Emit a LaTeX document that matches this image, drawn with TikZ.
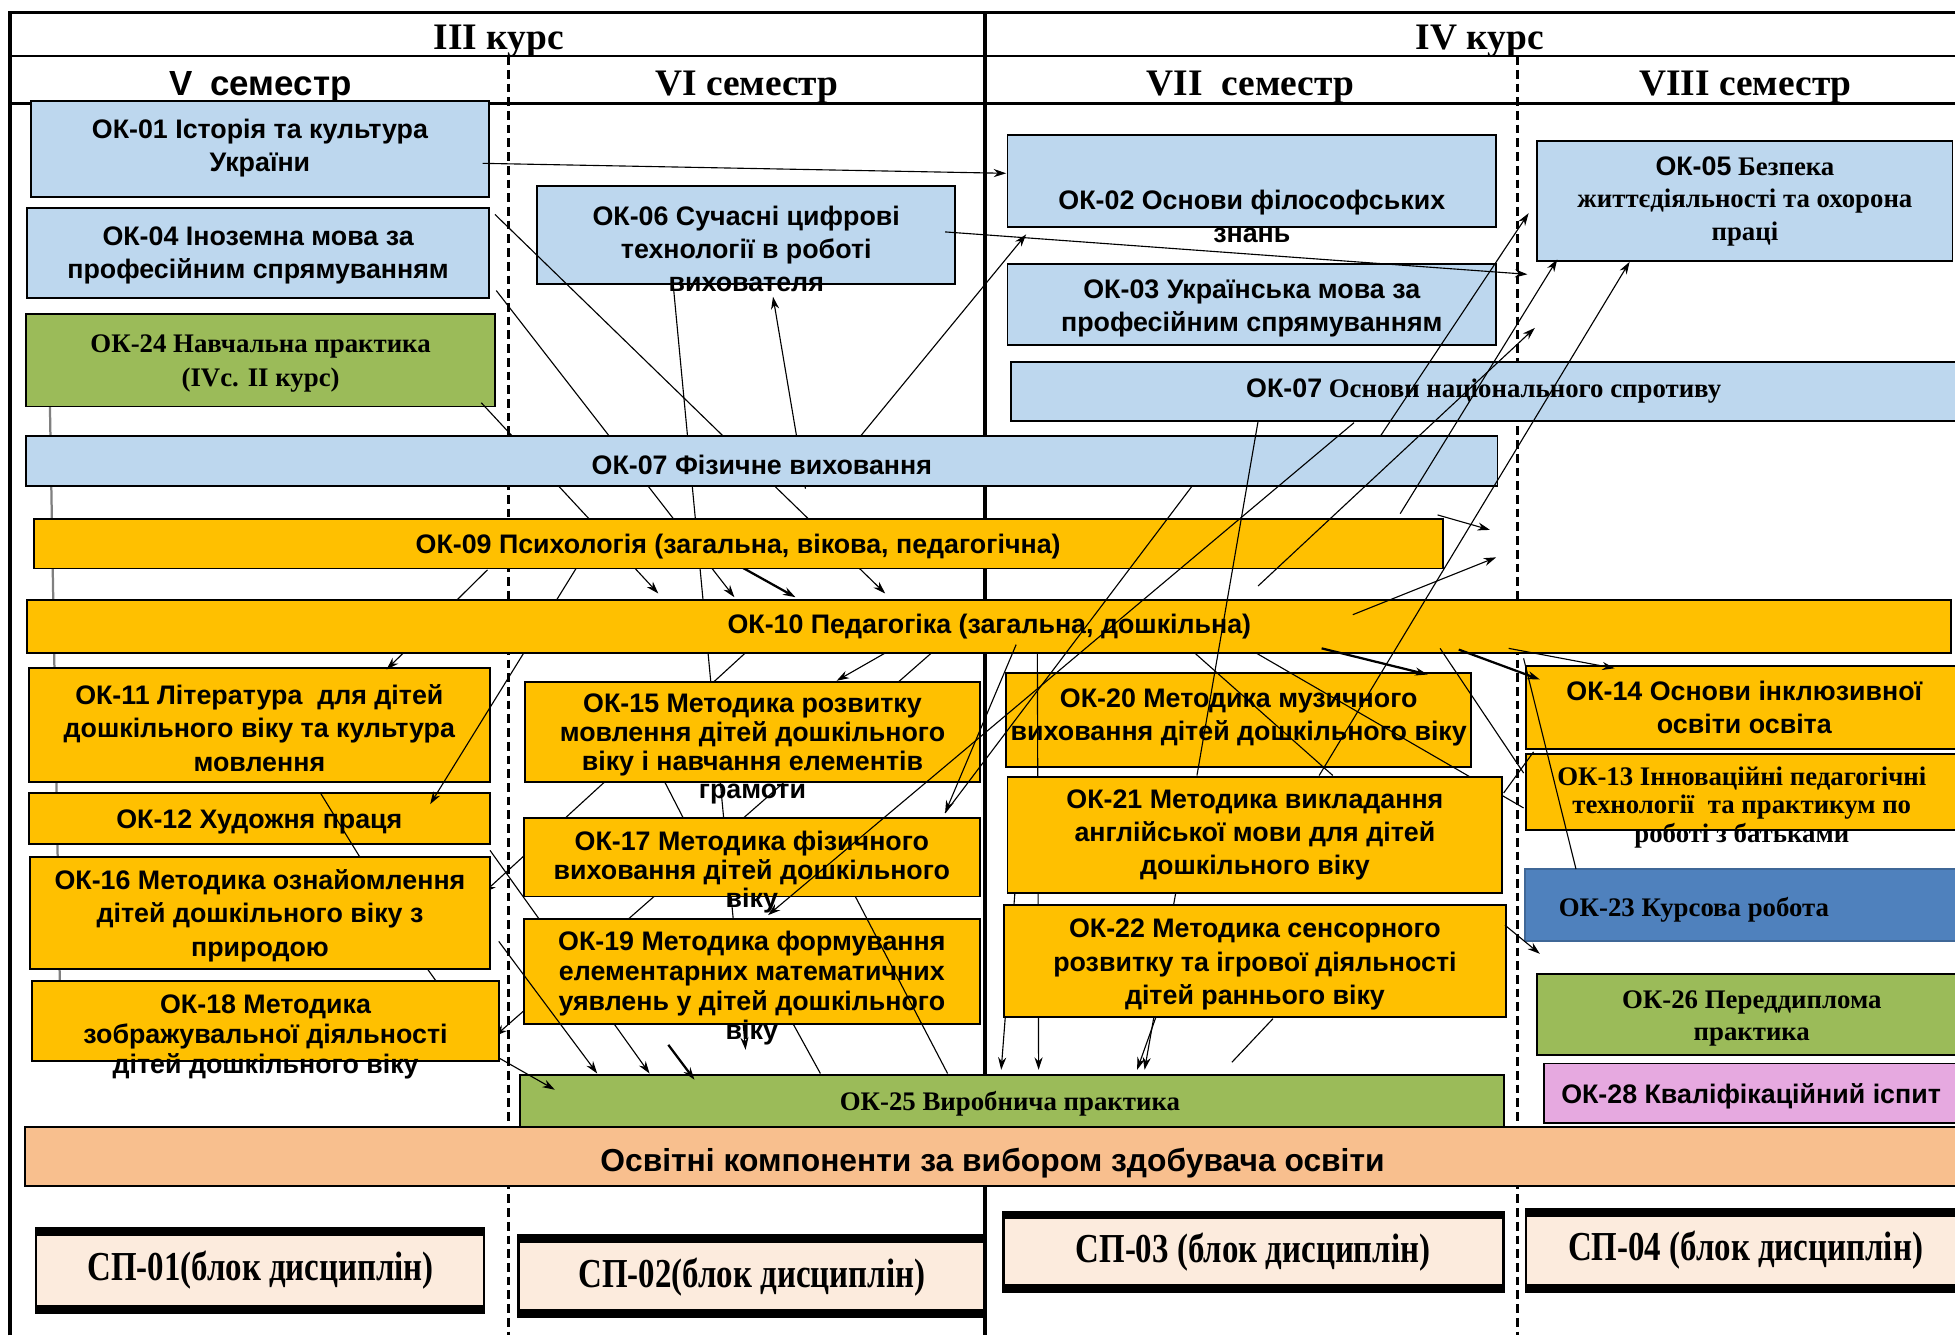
\documentclass[tikz,border=0pt]{standalone}
\usepackage{fontspec}
\setmainfont{Liberation Serif}
\setsansfont{Liberation Sans}
\newfontfamily\spfont{Liberation Serif}[FakeStretch=0.8]
\usetikzlibrary{calc,arrows.meta}
\definecolor{okblue}{HTML}{BDD7EE}
\definecolor{okyellow}{HTML}{FFC000}
\definecolor{okgreen}{HTML}{9BBB59}
\definecolor{okdark}{HTML}{4F81BD}
\definecolor{okpink}{HTML}{E6A9E0}
\definecolor{okpeach}{HTML}{F8BF8E}
\definecolor{spfill}{HTML}{FCEBDD}
\pgfdeclarelayer{back}
\pgfdeclarelayer{bars}
\pgfdeclarelayer{top}
\pgfsetlayers{back,main,bars,top}

\begin{document}
\begin{tikzpicture}[x=1pt,y=-1pt,>={Stealth[length=10pt,width=6.5pt]},
  box/.style={draw=black,line width=1.5pt,rectangle,inner sep=0pt,outer sep=0pt},
  sz/.style 2 args={minimum width=#1pt,minimum height=#2pt},
  bluebox/.style={box,fill=okblue},
  ylwbox/.style={box,fill=okyellow},
  grnbox/.style={box,fill=okgreen},
  spbox/.style={box,fill=spfill,line width=2pt,
    path picture={\draw[line width=12pt] (path picture bounding box.north west) -- (path picture bounding box.north east);
      \draw[line width=12pt] (path picture bounding box.south west) -- (path picture bounding box.south east);}},
  sft/.style={font=\sffamily\bfseries\fontsize{21.5}{26.5}\selectfont,align=center,inner sep=0pt,yshift=-2.5pt},
  sfs/.style={font=\sffamily\bfseries\fontsize{21.5}{23}\selectfont,align=center,inner sep=0pt,yshift=-2.5pt},
  rmt/.style={font=\rmfamily\bfseries\fontsize{21.5}{27}\selectfont,align=center,inner sep=0pt,yshift=-2.5pt},
  rms/.style={font=\rmfamily\bfseries\fontsize{21.5}{26}\selectfont,align=center,inner sep=0pt,yshift=-2.5pt},
  head/.style={font=\rmfamily\bfseries\fontsize{30}{34}\selectfont,inner sep=0pt,yshift=-3pt},
  spt/.style={font=\spfont\bfseries\fontsize{33}{36}\selectfont,inner sep=0pt,yshift=-2.5pt},
  link/.style={line width=0.9pt},
  arr/.style={line width=0.9pt,->},
  fatarr/.style={line width=1.8pt,->}]

\useasboundingbox (0,0) rectangle (1568,1071);

% Draw table
\begin{pgfonlayer}{back}
\draw[line width=3pt] (8,1071) -- (8,10) -- (1575,10);
\draw[line width=2pt] (8,45) -- (1575,45);
\draw[line width=2pt] (8,83) -- (1575,83);
\draw[line width=3pt] (790,10) -- (790,1071);
\draw[line width=2pt,dash pattern=on 7pt off 4pt] (408,45) -- (408,1071);
\draw[line width=2pt,dash pattern=on 7pt off 4pt] (1217,45) -- (1217,1071);
\end{pgfonlayer}

% Headers
\node[head] (c3) at (400,30) {III курс};
\node[head] (c4) at (1187,30) {IV курс};
\node[font=\sffamily\bfseries\fontsize{28}{32}\selectfont,inner sep=0pt,yshift=-3pt] (s5) at (209,67) {V\enspace семестр};
\node[head] (s6) at (599,67) {VI семестр};
\node[head] (s7) at (1003,67) {VII\enspace семестр};
\node[head] (s8) at (1400,67) {VIII семестр};

% Boxes, V and VI semesters
\node[bluebox,sz={367}{77}] (ok01) at (208.5,119.5) {};
\node[sft] (ok01t) at ($(ok01)+(0,-3)$) {ОК-01 Історія та культура\\України};
\node[bluebox,sz={370}{72}] (ok04) at (207,203) {};
\node[sft] (ok04t) at ($(ok04)+(0,-1)$) {ОК-04 Іноземна мова за\\професійним спрямуванням};
\node[grnbox,sz={376}{74}] (ok24) at (209,289) {};
\node[rmt] (ok24t) at (ok24) {ОК-24 Навчальна практика\\(IVс. II курс)};
\node[bluebox,sz={335}{79}] (ok06) at (598.5,188.5) {};
\node[sft] (ok06t) at ($(ok06)+(0,8.5)$) {ОК-06 Сучасні цифрові\\технології в роботі\\вихователя};
\node[ylwbox,sz={370}{91}] (ok11) at (208,581.5) {};
\node[sft] (ok11t) at (ok11) {ОК-11 Література\ \ для дітей\\дошкільного віку та культура\\мовлення};
\node[ylwbox,sz={370}{41}] (ok12) at (208,656.5) {};
\node[sft] (ok12t) at (ok12) {ОК-12 Художня праця};
\node[ylwbox,sz={369}{90}] (ok16) at (208.5,732) {};
\node[sft] (ok16t) at (ok16) {ОК-16 Методика ознайомлення\\дітей дошкільного віку з\\природою};
\node[ylwbox,sz={374}{64}] (ok18) at (213,819) {};
\node[sfs,font=\sffamily\bfseries\fontsize{21.5}{24}\selectfont] (ok18t) at ($(ok18)+(0,10)$) {ОК-18 Методика\\зображувальної діяльності\\дітей дошкільного віку};
\node[ylwbox,sz={365}{80}] (ok15) at (603.5,587) {};
\node[sfs] (ok15t) at ($(ok15)+(0,11.5)$) {ОК-15 Методика розвитку\\мовлення дітей дошкільного\\віку і навчання елементів\\грамоти};
\node[ylwbox,sz={366}{63}] (ok17) at (603,687.5) {};
\node[sfs] (ok17t) at ($(ok17)+(0,9.5)$) {ОК-17 Методика фізичного\\виховання дітей дошкільного\\віку};
\node[ylwbox,sz={366}{84}] (ok19) at (603,779) {};
\node[sfs,font=\sffamily\bfseries\fontsize{21.5}{24}\selectfont] (ok19t) at ($(ok19)+(0,11)$) {ОК-19 Методика формування\\елементарних математичних\\уявлень у дітей дошкільного\\віку};

% Boxes, VII and VIII semesters
\node[bluebox,sz={392}{74}] (ok02) at (1004,145) {};
\node[sft] (ok02t) at ($(ok02)+(0,26)$) {ОК-02 Основи філософських\\знань};
\node[bluebox,sz={392}{65}] (ok03) at (1004,244.5) {};
\node[sft] (ok03t) at (ok03) {ОК-03 Українська мова за\\професійним спрямуванням};
\node[bluebox,sz={333}{96}] (ok05) at (1399.5,161) {};
\node[rms] (ok05t) at ($(ok05)+(0,-2)$) {{\sffamily ОК-05} Безпека\\життєдіяльності та охорона\\праці};
\node[bluebox,sz={764}{48}] (ok07n) at (1193,314) {};
\node[rms] (ok07nt) at (1190,311) {{\sffamily ОК-07} Основи національного спротиву};
\node[ylwbox,sz={373}{75}] (ok20) at (993.5,577.5) {};
\node[sft] (ok20t) at ($(ok20)+(0,-4.5)$) {ОК-20 Методика музичного\\виховання дітей дошкільного віку};
\node[ylwbox,sz={351}{67}] (ok14) at (1399.5,567.5) {};
\node[sft] (ok14t) at (1399,565) {ОК-14 Основи інклюзивної\\освіти освіта};
\node[ylwbox,sz={351}{61}] (ok13) at (1399.5,635.5) {};
\node[rms,font=\rmfamily\bfseries\fontsize{21.5}{23}\selectfont] (ok13t) at (1397,645) {ОК-13 Інноваційні педагогічні\\технології\ \ та практикум по\\роботі з батьками};
\node[box,draw=okdark!80!black,fill=okdark,sz={352}{58}] (ok23) at (1399,726) {};
\node[rmt,anchor=west] (ok23t) at (1250,727) {ОК-23 Курсова робота};
\node[grnbox,sz={342}{65}] (ok26) at (1404,813.5) {};
\node[rms] (ok26t) at (1405,814.5) {ОК-26 Переддиплома\\практика};
\node[box,fill=okpink,sz={337}{48}] (ok28) at (1406.5,877) {};
\node[sft,anchor=west] (ok28t) at (1252,877) {ОК-28 Кваліфікаційний іспит};
\node[grnbox,sz={789}{42}] (ok25) at (811.5,883) {};
\node[rms] (ok25t) at (810,883) {ОК-25 Виробнича практика};
\node[box,fill=okpeach,sz={1555}{47}] (vyb) at (797.5,927.5) {};
\node[font=\sffamily\bfseries\fontsize{25.5}{30}\selectfont,inner sep=0pt,yshift=-2.5pt] (vybt) at (796,930) {Освітні компоненти за вибором здобувача освіти};

% Blocks of the specialisation
\node[spbox,sz={359}{68}] (sp01) at (208.5,1019) {};
\node[spt] (sp01t) at (209,1016) {СП-01(блок дисциплін)};
\node[spbox,sz={373}{65}] (sp02) at (602.5,1023.5) {};
\node[spt] (sp02t) at (603,1022) {СП-02(блок дисциплін)};
\node[spbox,sz={401}{64}] (sp03) at (1005.5,1004) {};
\node[spt] (sp03t) at (1005,1002) {СП-03 (блок дисциплін)};
\node[spbox,sz={351}{66}] (sp04) at (1399.5,1003) {};
\node[spt] (sp04t) at (1400,1000) {СП-04 (блок дисциплін)};

% Long bars
\begin{pgfonlayer}{bars}
\node[bluebox,sz={1180}{40}] (ok07f) at (611,370) {};
\node[sft] (ok07ft) at (ok07f) {ОК-07 Фізичне виховання};
\node[ylwbox,sz={1130}{40}] (ok09) at (592,436) {};
\node[sft] (ok09t) at (ok09) {ОК-09 Психологія (загальна, вікова, педагогічна)};
\node[ylwbox,sz={1543}{43}] (ok10) at (793.5,502.5) {};
\node[sft] (ok10t) at ($(ok10)+(0,-2.5)$) {ОК-10 Педагогіка (загальна, дошкільна)};
\node[ylwbox,sz={397}{93}] (ok21) at (1006.5,669.5) {};
\node[sft] (ok21t) at ($(ok21)+(0,-2.5)$) {ОК-21 Методика викладання\\англійської мови для дітей\\дошкільного віку};
\node[ylwbox,sz={403}{90}] (ok22) at (1006.5,771) {};
\node[sft] (ok22t) at (ok22) {ОК-22 Методика сенсорного\\розвитку та ігрової діяльності\\дітей раннього віку};
\end{pgfonlayer}

% Links under the long bars
\draw[arr] ($(ok06.north west)+(327,37)$) -- ($(ok05.north west)+(-8,107)$);
\draw[arr] ($(ok04.north west)+(375,5)$) -- ($(ok10.north west)+(688,-5)$);
\draw[arr] ($(ok04.north west)+(376,66)$) -- ($(ok10.north west)+(567,-2)$);
\draw[arr] ($(ok24.north west)+(365,71)$) -- ($(ok10.north west)+(506,-5)$);
\draw[arr] ($(ok07f.north west)+(625,42)$) -- ($(ok06.north west)+(189,89)$);
\draw[arr] ($(ok07f.north west)+(669,0)$) -- ($(ok02.north west)+(15,80)$);
\draw[arr] ($(ok09.north west)+(364,41)$) -- ($(ok11.north west)+(287,1)$);
\draw[arr] ($(ok09.north west)+(435,40)$) -- ($(ok12.north west)+(322,9)$);
\draw[fatarr] ($(ok09.north west)+(568,39)$) -- ($(ok10.north west)+(616,-2)$);
\draw[arr] ($(ok10.north west)+(698,37)$) -- ($(ok15.north west)+(250,-1)$);
\draw[link] ($(ok10.north west)+(932,39)$) -- ($(ok21.north west)+(261,-1)$);
\draw[link] ($(ok10.north west)+(979,39)$) -- ($(ok13.north west)+(-2,43)$);
\draw[arr] ($(ok10.north west)+(810,38)$) -- ($(ok25.north west)+(416,-4)$);

% Links behind every box
\begin{pgfonlayer}{back}
\draw[arr] ($(ok06.north west)+(109,80)$) -- ($(ok25.north west)+(181,-20)$);
\draw[arr] ($(ok21.north west)+(135,93)$) -- ($(ok25.north west)+(501,-4)$);
\draw[arr] ($(ok22.north west)+(122,90)$) -- ($(ok25.north west)+(495,-4)$);
\draw[arr] ($(ok10.north west)+(618,4)$) -- ($(ok16.north west)+(364,29)$);
\draw[arr] ($(ok10.north west)+(727,41)$) -- ($(ok18.north west)+(371,44)$);
\draw[arr] ($(ok16.north west)+(369,-5)$) -- ($(ok25.north west)+(104,-1)$);
\draw[arr] ($(ok21.north west)+(6,93)$) -- ($(ok25.north west)+(386,-4)$);
\draw[link,gray,line width=1.8pt] ($(ok24.north west)+(19,71)$) -- ($(ok18.north west)+(22,2)$);
\draw[link] ($(ok16.north west)+(318,89)$) -- ($(ok18.north west)+(326,3)$);
\draw[link] ($(ok15.north west)+(111,78)$) -- ($(ok17.north west)+(129,2)$);
\end{pgfonlayer}

% Links over every box
\begin{pgfonlayer}{top}
\draw[arr] ($(ok01.north west)+(362,50)$) -- ($(ok02.north west)+(-1,31)$);
\draw[link] ($(ok07n.north west)+(198,48)$) -- ($(ok21.north west)+(152,-1)$);
\draw[arr] ($(ok07n.north west)+(275,49)$) -- ($(ok19.north west)+(196,-3)$);
\draw[arr] ($(ok10.north west)+(987,-11)$) -- ($(ok05.north west)+(-2,150)$);
\draw[arr] ($(ok09.north west)+(1096,-4)$) -- ($(ok05.north west)+(16,95)$);
\draw[arr] ($(ok07f.north west)+(1086,0)$) -- ($(ok05.north west)+(-7,58)$);
\draw[arr] ($(ok21.north west)+(250,-1)$) -- ($(ok05.north west)+(74,97)$);
\draw[arr] ($(ok09.north west)+(1126,-3)$) -- ($(ok09.north west)+(1168,9)$);
\draw[arr] ($(ok10.north west)+(1063,12)$) -- ($(ok09.north west)+(1173,31)$);
\draw[link] ($(ok07f.north west)+(935,40)$) -- ($(ok17.north west)+(338,-4)$);
\draw[arr] ($(ok10.north west)+(793,36)$) -- ($(ok17.north west)+(338,-4)$);
\draw[fatarr] ($(ok10.north west)+(1038,39)$) -- ($(ok20.north west)+(338,1)$);
\draw[fatarr] ($(ok10.north west)+(1148,40)$) -- ($(ok14.north west)+(11,11)$);
\draw[arr] ($(ok10.north west)+(1188,39)$) -- ($(ok14.north west)+(71,2)$);
\draw[link] ($(ok10.north west)+(1133,39)$) -- ($(ok13.north west)+(-2,15)$);
\draw[link] ($(ok10.north west)+(1200,47)$) -- ($(ok23.north west)+(41,0)$);
\draw[link] ($(ok21.north west)+(398,13)$) -- ($(ok14.north west)+(6,69)$);
\draw[arr] ($(ok22.north west)+(402,16)$) -- ($(ok26.north west)+(2,-16)$);
\draw[arr] ($(ok16.north west)+(376,68)$) -- ($(ok25.north west)+(62,-1)$);
\draw[fatarr] ($(ok19.north west)+(116,101)$) -- ($(ok25.north west)+(140,4)$);
\draw[link] ($(ok17.north west)+(266,63)$) -- ($(ok25.north west)+(343,-1)$);
\draw[link] ($(ok19.north west)+(216,84)$) -- ($(ok25.north west)+(241,-1)$);
\draw[arr] ($(ok18.north west)+(375,62)$) -- ($(ok25.north west)+(28,12)$);
\draw[link] ($(ok22.north west)+(216,91)$) -- ($(ok25.north west)+(571,-10)$);
\draw[link] ($(ok11.north west)+(234,100)$) -- ($(ok16.north west)+(265,1)$);
\end{pgfonlayer}

\end{tikzpicture}
\end{document}
